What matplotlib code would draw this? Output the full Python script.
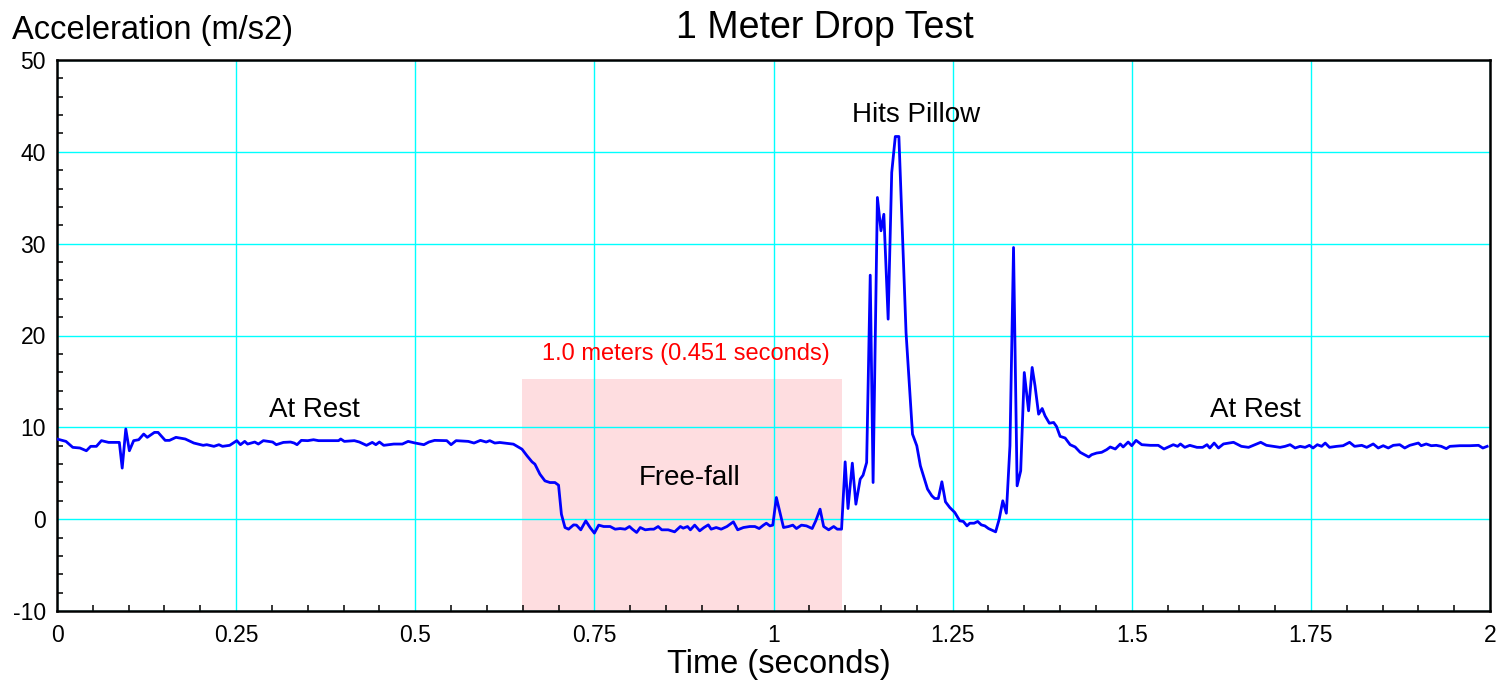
import matplotlib
matplotlib.use("Agg")
import matplotlib.pyplot as plt
from matplotlib.ticker import MultipleLocator
from matplotlib.patches import Rectangle

plt.rcParams['font.family'] = ['Liberation Sans', 'DejaVu Sans']
plt.rcParams['axes.unicode_minus'] = False

# ---- data ----
time_s = [
    0.000, 0.0125, 0.022, 0.032, 0.041, 0.047, 0.055, 0.062, 0.072, 0.087,
    0.091, 0.096, 0.101, 0.107, 0.114, 0.121, 0.126, 0.136, 0.141, 0.151,
    0.157, 0.166, 0.179, 0.191, 0.204, 0.209, 0.219, 0.226, 0.231, 0.241,
    0.251, 0.256, 0.262, 0.266, 0.276, 0.281, 0.288, 0.301, 0.306, 0.316,
    0.326, 0.331, 0.335, 0.341, 0.350, 0.358, 0.365, 0.380, 0.393, 0.396,
    0.401, 0.415, 0.422, 0.432, 0.440, 0.445, 0.450, 0.456, 0.470, 0.482,
    0.490, 0.500, 0.512, 0.519, 0.527, 0.544, 0.550, 0.557, 0.574, 0.582,
    0.591, 0.599, 0.604, 0.611,
    0.618, 0.637, 0.649, 0.656, 0.663, 0.667, 0.674, 0.681, 0.688, 0.695,
    0.700, 0.704, 0.709, 0.714, 0.721, 0.725, 0.731, 0.738, 0.744, 0.750,
    0.756, 0.763, 0.772, 0.779, 0.786, 0.793, 0.799, 0.803, 0.809, 0.814,
    0.821, 0.828, 0.833, 0.839, 0.844, 0.853, 0.862, 0.870, 0.874, 0.880,
    0.884, 0.890, 0.897, 0.903, 0.909, 0.913, 0.920, 0.927, 0.935, 0.944,
    0.950, 0.958, 0.967, 0.974, 0.980, 0.986, 0.990, 0.995, 0.999, 1.004,
    1.014, 1.021, 1.027, 1.032, 1.039, 1.046, 1.054, 1.059, 1.065, 1.070,
    1.077,
    1.084, 1.089, 1.095, 1.100, 1.104, 1.110, 1.115, 1.121, 1.125, 1.130,
    1.135, 1.139, 1.145, 1.150, 1.154, 1.160, 1.165, 1.170, 1.175, 1.185,
    1.194, 1.200, 1.205, 1.215, 1.221, 1.225, 1.230, 1.235, 1.240, 1.246,
    1.253, 1.260, 1.265, 1.270, 1.274, 1.280, 1.285, 1.290, 1.295, 1.300,
    1.304, 1.310, 1.315, 1.320, 1.325, 1.330, 1.335, 1.340, 1.345, 1.350,
    1.356, 1.361, 1.365, 1.370, 1.375, 1.379, 1.385, 1.391, 1.395,
    1.400, 1.407, 1.414, 1.421, 1.428, 1.434, 1.440, 1.444, 1.451, 1.458,
    1.465, 1.470, 1.477, 1.484, 1.488, 1.495, 1.500, 1.506, 1.514, 1.526,
    1.537, 1.545, 1.553, 1.558, 1.564, 1.568, 1.574, 1.581, 1.591, 1.599,
    1.605, 1.609, 1.615, 1.621, 1.628, 1.642, 1.653, 1.663, 1.672, 1.680,
    1.688, 1.697, 1.707, 1.714, 1.721, 1.728, 1.735, 1.742, 1.748, 1.753,
    1.759, 1.765, 1.770, 1.776, 1.786, 1.795, 1.804, 1.811, 1.821, 1.828,
    1.837, 1.844, 1.851, 1.858, 1.865, 1.874, 1.881, 1.888, 1.895, 1.900,
    1.904, 1.911, 1.918, 1.925, 1.932, 1.939, 1.944, 1.958, 1.972, 1.984,
    1.990, 1.996,
]
accel = [
    8.73, 8.47, 7.82, 7.75, 7.45, 7.93, 7.93, 8.55, 8.36, 8.36,
    5.56, 9.82, 7.45, 8.55, 8.65, 9.27, 8.91, 9.45, 9.45, 8.58,
    8.58, 8.91, 8.73, 8.29, 8.04, 8.11, 7.93, 8.11, 7.93, 8.04,
    8.55, 8.11, 8.47, 8.18, 8.40, 8.18, 8.55, 8.40, 8.11, 8.36,
    8.40, 8.29, 8.11, 8.58, 8.55, 8.65, 8.55, 8.55, 8.55, 8.73,
    8.47, 8.55, 8.40, 8.04, 8.36, 8.11, 8.40, 8.04, 8.18, 8.18,
    8.47, 8.29, 8.11, 8.40, 8.58, 8.55, 8.11, 8.55, 8.47, 8.29,
    8.58, 8.40, 8.55, 8.29,
    8.35, 8.17, 7.62, 6.90, 6.24, 5.99, 4.90, 4.17, 3.99, 3.99,
    3.70, 0.54, -0.91, -1.09, -0.62, -0.65, -1.16, -0.18, -0.91, -1.52,
    -0.65, -0.80, -0.80, -1.09, -1.02, -1.09, -0.80, -1.09, -1.45, -0.91,
    -1.16, -1.09, -1.09, -0.80, -1.16, -1.16, -1.38, -0.80, -0.98, -0.80,
    -1.16, -0.65, -1.27, -0.91, -0.62, -1.09, -0.91, -1.09, -0.80, -0.29,
    -1.16, -0.91, -0.80, -0.80, -1.02, -0.65, -0.44, -0.73, -0.65, 2.36,
    -0.91, -0.80, -0.65, -1.02, -0.65, -0.73, -1.02, -0.18, 1.09, -0.80,
    -1.16,
    -0.80, -1.09, -1.09, 6.24, 1.16, 6.10, 1.63, 4.36, 4.79, 6.17,
    26.57, 3.99, 35.03, 31.40, 33.20, 21.78, 37.75, 41.67, 41.67, 20.30,
    9.26, 7.99, 5.81, 3.27, 2.54, 2.25, 2.25, 4.07, 1.89, 1.27,
    0.73, -0.18, -0.25, -0.73, -0.44, -0.44, -0.25, -0.62, -0.73, -1.02,
    -1.16, -1.38, 0.00, 2.00, 0.65, 7.99, 29.58, 3.63, 5.26, 15.97,
    11.80, 16.52, 14.52, 11.43, 12.05, 11.25, 10.45, 10.53, 10.09,
    9.02, 8.84, 8.11, 7.86, 7.28, 7.02, 6.77, 7.02, 7.20, 7.28,
    7.57, 7.86, 7.64, 8.19, 7.86, 8.40, 8.00, 8.58, 8.11, 8.04,
    8.04, 7.64, 7.93, 8.11, 7.93, 8.19, 7.82, 8.04, 7.82, 7.82,
    8.11, 7.75, 8.29, 7.75, 8.19, 8.37, 7.93, 7.82, 8.11, 8.37,
    8.04, 7.93, 7.82, 7.93, 8.11, 7.75, 7.93, 7.82, 8.04, 7.75,
    8.11, 7.93, 8.29, 7.82, 7.93, 8.00, 8.37, 7.93, 8.04, 7.82,
    8.19, 7.75, 8.00, 7.75, 8.04, 8.11, 7.75, 8.04, 8.19, 8.29,
    8.00, 8.19, 8.00, 8.04, 7.93, 7.68, 7.93, 8.00, 8.00, 8.04,
    7.75, 7.93,
]

freefall_start = 0.649
freefall_end = 1.0956
freefall_top = 15.25

annotations = [
    ("At Rest", 0.3587, 11.9),
    ("At Rest", 1.673, 11.9),
    ("Hits Pillow", 1.199, 44.0),
    ("Free-fall", 0.8835, 4.46),
]
red_label = "1.0 meters (0.451 seconds)"
red_label_pos = (0.878, 17.97)

x_major = [0, 0.25, 0.5, 0.75, 1, 1.25, 1.5, 1.75, 2]
x_major_labels = ["0", "0.25", "0.5", "0.75", "1", "1.25", "1.5", "1.75", "2"]
y_major = [-10, 0, 10, 20, 30, 40, 50]
y_major_labels = ["-10", "0", "10", "20", "30", "40", "50"]

# ---- figure ----
fig = plt.figure(figsize=(14.97, 6.84), dpi=100)
ax = fig.add_axes([57 / 1497, 73 / 684, 1433 / 1497, 551 / 684])

ax.set_xlim(0, 2)
ax.set_ylim(-10, 50)

ax.add_patch(Rectangle((freefall_start, -10), freefall_end - freefall_start,
                       freefall_top + 10, facecolor='#FEDDE0',
                       edgecolor='none', zorder=0))

ax.set_xticks(x_major)
ax.set_xticklabels(x_major_labels)
ax.set_yticks(y_major)
ax.set_yticklabels(y_major_labels)
ax.xaxis.set_minor_locator(MultipleLocator(0.05))
ax.yaxis.set_minor_locator(MultipleLocator(2))
ax.grid(True, which='major', color='#00FFFF', linewidth=1.0, zorder=1)
ax.set_axisbelow(True)

ax.tick_params(which='major', length=0, labelsize=16.5, pad=8)
ax.tick_params(axis='x', which='major', pad=9)
ax.tick_params(which='minor', direction='in', length=4.5, width=1.1,
               color='black')
ax.tick_params(top=False, right=False, which='both')

for s in ax.spines.values():
    s.set_linewidth(1.8)
    s.set_color('black')

ax.plot(time_s, accel, color='#0000FF', linewidth=2.0, zorder=3)

for txt, x, y in annotations:
    ax.text(x, y, txt, ha='center', va='center', fontsize=20, color='black',
            zorder=4)
ax.text(red_label_pos[0], red_label_pos[1], red_label, ha='center',
        va='center', fontsize=17, color='#FF0000', zorder=4)

fig.text(825 / 1497, 1 - 28 / 684, "1 Meter Drop Test", ha='center',
         va='center', fontsize=27)
fig.text(12 / 1497, 1 - 30 / 684, "Acceleration (m/s2)", ha='left',
         va='center', fontsize=23.5)
fig.text(779 / 1497, 1 - 664 / 684, "Time (seconds)", ha='center',
         va='center', fontsize=23.5)

fig.savefig("out.png", dpi=100, facecolor='white')
